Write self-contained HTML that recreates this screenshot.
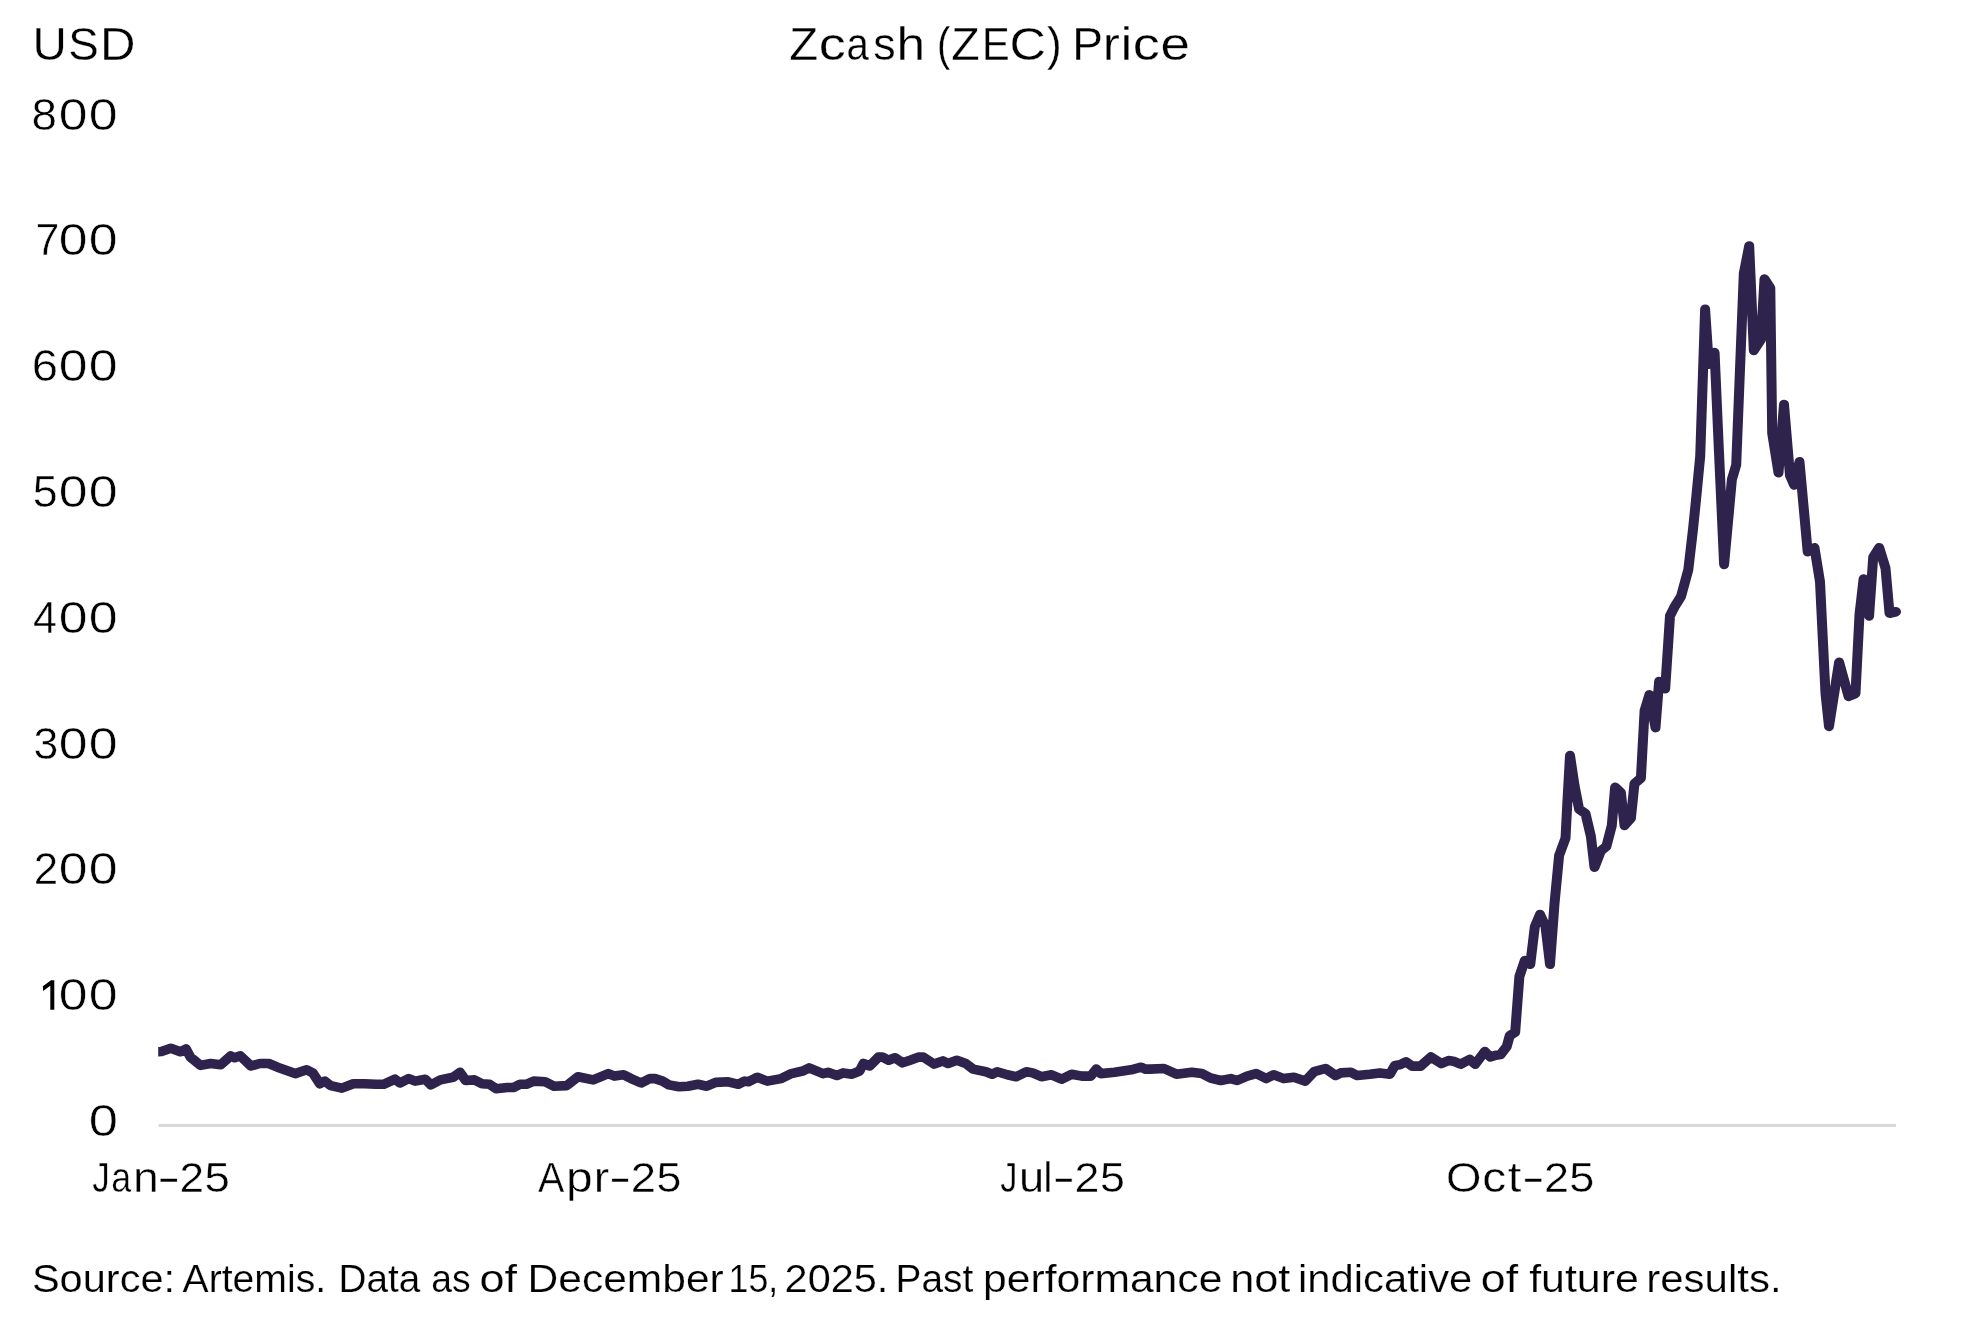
<!DOCTYPE html>
<html><head><meta charset="utf-8">
<style>
html,body{margin:0;padding:0;background:#fff;}
body{width:1980px;height:1320px;overflow:hidden;}
svg{display:block;will-change:transform;}
text{font-family:"Liberation Sans", sans-serif;fill:#000;stroke:#fff;}
</style></head><body>
<svg width="1980" height="1320" viewBox="0 0 1980 1320">
<rect x="0" y="0" width="1980" height="1320" fill="#fff"/>
<line x1="158.5" y1="1125.5" x2="1896" y2="1125.5" stroke="#d9d9d9" stroke-width="3"/>
<defs><clipPath id="pc"><rect x="158.2" y="0" width="1800" height="1320"/></clipPath></defs>
<g clip-path="url(#pc)"><path transform="scale(1.04,1)" d="M152.12,1051.7 L155.19,1051.5 L164.23,1048.3 L173.37,1051.7 L178.85,1048.9 L183.08,1057.1 L192.79,1065.4 L202.50,1063.5 L212.21,1064.7 L221.92,1055.9 L225.58,1057.8 L231.06,1055.9 L241.35,1066.0 L249.81,1063.5 L258.37,1063.5 L266.83,1067.2 L283.85,1073.6 L294.81,1069.8 L300.87,1072.9 L307.50,1083.7 L312.40,1081.1 L317.88,1085.6 L328.75,1088.1 L339.71,1083.7 L350.58,1083.7 L361.54,1084.3 L368.85,1084.3 L379.81,1079.2 L384.62,1083.0 L393.08,1078.6 L399.23,1081.1 L408.94,1079.2 L414.33,1084.9 L423.46,1079.9 L435.58,1077.3 L442.31,1072.3 L447.79,1080.5 L456.25,1079.9 L463.46,1083.7 L470.77,1084.3 L476.92,1088.7 L487.79,1087.5 L493.85,1087.5 L500.00,1084.3 L506.06,1084.3 L513.27,1081.1 L524.23,1081.8 L532.69,1086.2 L544.90,1085.6 L555.77,1076.7 L570.38,1079.9 L584.90,1073.6 L590.96,1076.1 L599.52,1074.8 L606.83,1078.6 L616.54,1083.0 L625.00,1078.6 L629.81,1078.6 L637.12,1081.1 L643.17,1084.9 L652.88,1086.8 L661.44,1086.2 L671.15,1084.3 L679.62,1086.2 L688.17,1082.4 L700.29,1081.8 L710.00,1084.3 L716.06,1081.1 L719.71,1081.8 L728.17,1077.3 L737.88,1081.1 L751.25,1078.6 L760.96,1073.6 L771.92,1071.0 L777.98,1067.9 L791.35,1073.6 L796.15,1072.3 L804.71,1075.5 L810.77,1072.9 L819.23,1074.2 L826.54,1071.0 L830.19,1063.5 L836.25,1066.0 L844.71,1057.1 L848.37,1057.1 L854.42,1060.3 L860.58,1057.8 L867.79,1062.8 L875.10,1060.3 L883.56,1057.1 L887.88,1057.1 L898.17,1064.1 L906.63,1060.9 L911.54,1063.5 L920.00,1060.3 L928.56,1063.5 L935.77,1069.1 L947.98,1071.7 L954.04,1074.2 L958.85,1071.7 L968.56,1074.8 L977.12,1076.7 L986.83,1071.7 L992.88,1072.9 L1001.35,1076.7 L1011.06,1074.8 L1020.77,1079.2 L1030.48,1074.2 L1040.19,1076.1 L1048.75,1076.1 L1054.13,1069.1 L1058.46,1073.6 L1071.73,1072.3 L1087.60,1069.8 L1097.31,1067.2 L1100.96,1069.1 L1105.77,1069.1 L1119.13,1068.5 L1131.25,1074.2 L1145.87,1072.3 L1155.58,1073.6 L1164.04,1078.0 L1173.75,1080.5 L1183.46,1078.6 L1189.52,1080.5 L1199.23,1076.1 L1207.79,1073.6 L1217.50,1078.6 L1224.71,1074.8 L1234.42,1078.6 L1244.13,1077.3 L1255.10,1081.1 L1263.56,1071.7 L1274.52,1068.5 L1284.23,1075.5 L1289.13,1072.9 L1298.85,1072.3 L1304.90,1075.5 L1317.02,1074.2 L1326.73,1072.9 L1336.44,1074.2 L1341.35,1065.4 L1346.15,1064.8 L1352.02,1061.8 L1357.79,1066.1 L1365.96,1066.1 L1375.87,1057.0 L1385.77,1063.6 L1392.79,1060.6 L1397.40,1061.2 L1404.42,1064.2 L1413.17,1059.4 L1418.46,1064.2 L1427.69,1051.5 L1432.98,1057.0 L1438.27,1055.2 L1442.88,1054.5 L1448.75,1046.7 L1451.63,1035.8 L1456.92,1032.1 L1460.96,976.4 L1466.15,960.6 L1471.44,964.2 L1475.77,926.8 L1480.77,914.5 L1486.06,926.4 L1490.38,964.3 L1494.71,903.6 L1499.13,855.5 L1505.29,838.2 L1507.02,803.6 L1509.62,755.5 L1513.94,785.5 L1518.37,809.1 L1524.52,813.6 L1529.71,836.4 L1533.17,867.3 L1539.33,850.9 L1544.62,846.4 L1549.81,825.5 L1552.98,787.3 L1558.56,792.7 L1562.02,825.5 L1568.17,818.2 L1571.63,783.6 L1577.79,778.2 L1581.35,710.6 L1585.96,694.8 L1591.83,727.6 L1595.29,681.5 L1601.15,688.7 L1605.77,615.9 L1610.48,606.2 L1616.35,596.5 L1623.37,569.8 L1627.98,528.5 L1630.77,500.0 L1634.81,456.3 L1639.52,309.3 L1643.08,364.1 L1648.65,352.6 L1652.79,450.5 L1657.79,564.4 L1665.29,479.4 L1669.42,465.0 L1676.73,273.5 L1681.92,246.0 L1686.35,350.5 L1693.27,339.5 L1696.63,279.0 L1702.21,288.0 L1704.04,433.3 L1710.10,472.7 L1715.38,404.5 L1721.15,475.5 L1725.10,485.0 L1730.29,461.8 L1738.17,551.8 L1744.71,547.7 L1750.00,581.8 L1755.29,693.6 L1758.65,726.4 L1768.37,662.3 L1777.50,696.4 L1784.13,693.6 L1787.98,614.5 L1791.92,579.1 L1797.21,615.9 L1801.15,557.3 L1806.92,547.7 L1812.98,568.2 L1816.83,613.2 L1823.08,611.8" fill="none" stroke="#2e234d" stroke-width="9.6" stroke-linejoin="round" stroke-linecap="round"/></g>
<text x="32.53" y="60" font-size="46" stroke-width="0.3" textLength="34.34" lengthAdjust="spacingAndGlyphs">U</text>
<text x="68.23" y="60" font-size="46" stroke-width="0.3" textLength="30.47" lengthAdjust="spacingAndGlyphs">S</text>
<text x="100.07" y="60" font-size="46" stroke-width="0.3" textLength="35.48" lengthAdjust="spacingAndGlyphs">D</text>
<text x="789.30" y="60.3" font-size="46" stroke-width="0.3" textLength="28.88" lengthAdjust="spacingAndGlyphs">Z</text>
<text x="818.80" y="60.3" font-size="46" stroke-width="0.3" textLength="27.02" lengthAdjust="spacingAndGlyphs">c</text>
<text x="846.60" y="60.3" font-size="46" stroke-width="0.3" textLength="22.30" lengthAdjust="spacingAndGlyphs">a</text>
<text x="873.16" y="60.3" font-size="46" stroke-width="0.3" textLength="22.36" lengthAdjust="spacingAndGlyphs">s</text>
<text x="896.43" y="60.3" font-size="46" stroke-width="0.3" textLength="28.61" lengthAdjust="spacingAndGlyphs">h</text>
<text x="936.92" y="60.3" font-size="46" stroke-width="0.3" textLength="13.31" lengthAdjust="spacingAndGlyphs">(</text>
<text x="951.32" y="60.3" font-size="46" stroke-width="0.3" textLength="28.43" lengthAdjust="spacingAndGlyphs">Z</text>
<text x="981.89" y="60.3" font-size="46" stroke-width="0.3" textLength="27.69" lengthAdjust="spacingAndGlyphs">E</text>
<text x="1009.63" y="60.3" font-size="46" stroke-width="0.3" textLength="36.49" lengthAdjust="spacingAndGlyphs">C</text>
<text x="1046.94" y="60.3" font-size="46" stroke-width="0.3" textLength="14.70" lengthAdjust="spacingAndGlyphs">)</text>
<text x="1072.32" y="60.3" font-size="46" stroke-width="0.3" textLength="30.70" lengthAdjust="spacingAndGlyphs">P</text>
<text x="1102.70" y="60.3" font-size="46" stroke-width="0.3" textLength="17.05" lengthAdjust="spacingAndGlyphs">r</text>
<text x="1120.62" y="60.3" font-size="46" stroke-width="0.3" textLength="11.88" lengthAdjust="spacingAndGlyphs">i</text>
<text x="1132.70" y="60.3" font-size="46" stroke-width="0.3" textLength="27.02" lengthAdjust="spacingAndGlyphs">c</text>
<text x="1160.55" y="60.3" font-size="46" stroke-width="0.3" textLength="29.39" lengthAdjust="spacingAndGlyphs">e</text>
<text x="92.25" y="1192" font-size="42" stroke-width="0.4" textLength="17.55" lengthAdjust="spacingAndGlyphs">J</text>
<text x="111.28" y="1192" font-size="42" stroke-width="0.4" textLength="19.92" lengthAdjust="spacingAndGlyphs">a</text>
<text x="133.12" y="1192" font-size="42" stroke-width="0.4" textLength="25.79" lengthAdjust="spacingAndGlyphs">n</text>
<text x="156.97" y="1192" font-size="42" stroke-width="0.4" textLength="23.46" lengthAdjust="spacingAndGlyphs">-</text>
<text x="179.58" y="1192" font-size="42" stroke-width="0.4" textLength="24.54" lengthAdjust="spacingAndGlyphs">2</text>
<text x="204.58" y="1192" font-size="42" stroke-width="0.4" textLength="25.34" lengthAdjust="spacingAndGlyphs">5</text>
<text x="537.92" y="1192" font-size="42" stroke-width="0.4" textLength="26.35" lengthAdjust="spacingAndGlyphs">A</text>
<text x="566.12" y="1192" font-size="42" stroke-width="0.4" textLength="26.59" lengthAdjust="spacingAndGlyphs">p</text>
<text x="593.72" y="1192" font-size="42" stroke-width="0.4" textLength="15.45" lengthAdjust="spacingAndGlyphs">r</text>
<text x="608.86" y="1192" font-size="42" stroke-width="0.4" textLength="22.78" lengthAdjust="spacingAndGlyphs">-</text>
<text x="630.81" y="1192" font-size="42" stroke-width="0.4" textLength="25.27" lengthAdjust="spacingAndGlyphs">2</text>
<text x="656.41" y="1192" font-size="42" stroke-width="0.4" textLength="24.87" lengthAdjust="spacingAndGlyphs">5</text>
<text x="1000.16" y="1192" font-size="42" stroke-width="0.4" textLength="17.19" lengthAdjust="spacingAndGlyphs">J</text>
<text x="1018.96" y="1192" font-size="42" stroke-width="0.4" textLength="25.14" lengthAdjust="spacingAndGlyphs">u</text>
<text x="1043.36" y="1192" font-size="42" stroke-width="0.4" textLength="9.35" lengthAdjust="spacingAndGlyphs">l</text>
<text x="1052.24" y="1192" font-size="42" stroke-width="0.4" textLength="22.92" lengthAdjust="spacingAndGlyphs">-</text>
<text x="1074.55" y="1192" font-size="42" stroke-width="0.4" textLength="24.90" lengthAdjust="spacingAndGlyphs">2</text>
<text x="1099.91" y="1192" font-size="42" stroke-width="0.4" textLength="24.87" lengthAdjust="spacingAndGlyphs">5</text>
<text x="1446.04" y="1192" font-size="42" stroke-width="0.4" textLength="35.44" lengthAdjust="spacingAndGlyphs">O</text>
<text x="1482.27" y="1192" font-size="42" stroke-width="0.4" textLength="23.89" lengthAdjust="spacingAndGlyphs">c</text>
<text x="1507.86" y="1192" font-size="42" stroke-width="0.4" textLength="13.60" lengthAdjust="spacingAndGlyphs">t</text>
<text x="1521.81" y="1192" font-size="42" stroke-width="0.4" textLength="23.19" lengthAdjust="spacingAndGlyphs">-</text>
<text x="1544.14" y="1192" font-size="42" stroke-width="0.4" textLength="25.03" lengthAdjust="spacingAndGlyphs">2</text>
<text x="1569.39" y="1192" font-size="42" stroke-width="0.4" textLength="25.10" lengthAdjust="spacingAndGlyphs">5</text>
<text x="31.51" y="129.5" font-size="45" stroke-width="0.5" textLength="25.48" lengthAdjust="spacingAndGlyphs">8</text>
<text x="58.68" y="129.5" font-size="45" stroke-width="0.5" textLength="28.74" lengthAdjust="spacingAndGlyphs">0</text>
<text x="88.67" y="129.5" font-size="45" stroke-width="0.5" textLength="28.85" lengthAdjust="spacingAndGlyphs">0</text>
<text x="35.40" y="255.3" font-size="45" stroke-width="0.5" textLength="23.86" lengthAdjust="spacingAndGlyphs">7</text>
<text x="58.68" y="255.3" font-size="45" stroke-width="0.5" textLength="28.74" lengthAdjust="spacingAndGlyphs">0</text>
<text x="88.67" y="255.3" font-size="45" stroke-width="0.5" textLength="28.85" lengthAdjust="spacingAndGlyphs">0</text>
<text x="31.70" y="381.1" font-size="45" stroke-width="0.5" textLength="26.28" lengthAdjust="spacingAndGlyphs">6</text>
<text x="58.68" y="381.1" font-size="45" stroke-width="0.5" textLength="28.74" lengthAdjust="spacingAndGlyphs">0</text>
<text x="88.67" y="381.1" font-size="45" stroke-width="0.5" textLength="28.85" lengthAdjust="spacingAndGlyphs">0</text>
<text x="32.81" y="506.9" font-size="45" stroke-width="0.5" textLength="24.87" lengthAdjust="spacingAndGlyphs">5</text>
<text x="58.68" y="506.9" font-size="45" stroke-width="0.5" textLength="28.74" lengthAdjust="spacingAndGlyphs">0</text>
<text x="88.67" y="506.9" font-size="45" stroke-width="0.5" textLength="28.85" lengthAdjust="spacingAndGlyphs">0</text>
<text x="33.11" y="632.7" font-size="45" stroke-width="0.5" textLength="24.06" lengthAdjust="spacingAndGlyphs">4</text>
<text x="58.68" y="632.7" font-size="45" stroke-width="0.5" textLength="28.74" lengthAdjust="spacingAndGlyphs">0</text>
<text x="88.67" y="632.7" font-size="45" stroke-width="0.5" textLength="28.85" lengthAdjust="spacingAndGlyphs">0</text>
<text x="33.40" y="758.5" font-size="45" stroke-width="0.5" textLength="24.87" lengthAdjust="spacingAndGlyphs">3</text>
<text x="58.68" y="758.5" font-size="45" stroke-width="0.5" textLength="28.74" lengthAdjust="spacingAndGlyphs">0</text>
<text x="88.67" y="758.5" font-size="45" stroke-width="0.5" textLength="28.85" lengthAdjust="spacingAndGlyphs">0</text>
<text x="33.69" y="884.3" font-size="45" stroke-width="0.5" textLength="24.42" lengthAdjust="spacingAndGlyphs">2</text>
<text x="58.68" y="884.3" font-size="45" stroke-width="0.5" textLength="28.74" lengthAdjust="spacingAndGlyphs">0</text>
<text x="88.67" y="884.3" font-size="45" stroke-width="0.5" textLength="28.85" lengthAdjust="spacingAndGlyphs">0</text>
<path d="M42.9,986.3 L51.0,980.2 L54.3,980.2 L54.3,1009.7 L50.3,1009.7 L50.3,985.8 L43.1,990.9 Z" fill="#000"/>
<text x="58.68" y="1010.1" font-size="45" stroke-width="0.5" textLength="28.74" lengthAdjust="spacingAndGlyphs">0</text>
<text x="88.67" y="1010.1" font-size="45" stroke-width="0.5" textLength="28.85" lengthAdjust="spacingAndGlyphs">0</text>
<text x="88.65" y="1135.9" font-size="45" stroke-width="0.5" textLength="29.20" lengthAdjust="spacingAndGlyphs">0</text>
<text x="31.91" y="1292.3" font-size="38" stroke-width="0.2" textLength="143.13" lengthAdjust="spacingAndGlyphs">Source:</text>
<text x="182.50" y="1292.3" font-size="38" stroke-width="0.2" textLength="143.66" lengthAdjust="spacingAndGlyphs">Artemis.</text>
<text x="338.55" y="1292.3" font-size="38" stroke-width="0.2" textLength="81.74" lengthAdjust="spacingAndGlyphs">Data</text>
<text x="431.24" y="1292.3" font-size="38" stroke-width="0.2" textLength="39.38" lengthAdjust="spacingAndGlyphs">as</text>
<text x="479.43" y="1292.3" font-size="38" stroke-width="0.2" textLength="37.52" lengthAdjust="spacingAndGlyphs">of</text>
<text x="527.54" y="1292.3" font-size="38" stroke-width="0.2" textLength="196.19" lengthAdjust="spacingAndGlyphs">December</text>
<text x="728.59" y="1292.3" font-size="38" stroke-width="0.2" textLength="49.50" lengthAdjust="spacingAndGlyphs">15,</text>
<text x="784.62" y="1292.3" font-size="38" stroke-width="0.2" textLength="103.76" lengthAdjust="spacingAndGlyphs">2025.</text>
<text x="895.53" y="1292.3" font-size="38" stroke-width="0.2" textLength="77.71" lengthAdjust="spacingAndGlyphs">Past</text>
<text x="983.03" y="1292.3" font-size="38" stroke-width="0.2" textLength="239.36" lengthAdjust="spacingAndGlyphs">performance</text>
<text x="1230.19" y="1292.3" font-size="38" stroke-width="0.2" textLength="60.12" lengthAdjust="spacingAndGlyphs">not</text>
<text x="1298.10" y="1292.3" font-size="38" stroke-width="0.2" textLength="174.16" lengthAdjust="spacingAndGlyphs">indicative</text>
<text x="1480.85" y="1292.3" font-size="38" stroke-width="0.2" textLength="37.20" lengthAdjust="spacingAndGlyphs">of</text>
<text x="1529.17" y="1292.3" font-size="38" stroke-width="0.2" textLength="109.75" lengthAdjust="spacingAndGlyphs">future</text>
<text x="1646.28" y="1292.3" font-size="38" stroke-width="0.2" textLength="135.37" lengthAdjust="spacingAndGlyphs">results.</text>
</svg>
</body></html>
